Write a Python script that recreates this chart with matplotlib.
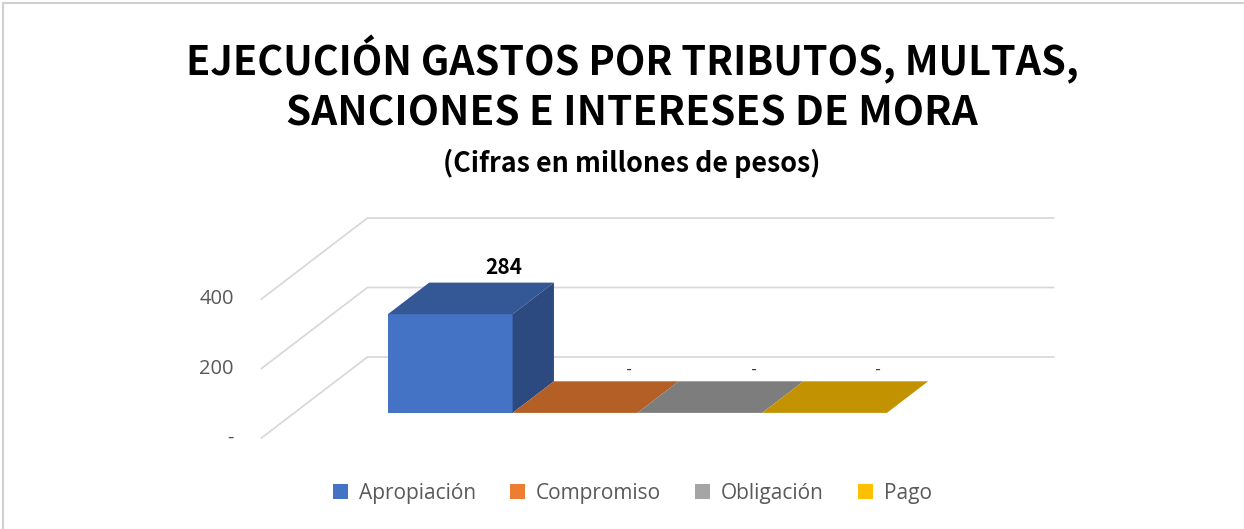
import matplotlib
matplotlib.use('Agg')
import matplotlib.pyplot as plt
from matplotlib.patches import Polygon, Patch
from matplotlib.lines import Line2D
from matplotlib.colors import to_rgb

# === DATA ===
series = ['Apropiación', 'Compromiso', 'Obligación', 'Pago']
values = [284, 0, 0, 0]
colors = ['#4472C4', '#ED7D31', '#A5A5A5', '#FFC000']
yticks = [0, 200, 400]
ytick_labels = ['-', '200', '400']
title_lines = ['EJECUCIÓN GASTOS POR TRIBUTOS, MULTAS,', 'SANCIONES E INTERESES DE MORA']
subtitle = '(Cifras en millones de pesos)'

TITLE_FONT = ['Noto Sans CJK SC', 'Lato']

# === FIGURE ===
W, H = 1244, 529
fig = plt.figure(figsize=(W / 100, H / 100), dpi=100)
ax = fig.add_axes([0, 0, 1, 1])
ax.axis('off')

# pseudo 3D geometry, measured in figure pixels
BAR_PX = 124.75            # width of one bar
UNIT_PX = 69.5 / 200       # pixels per value unit
ORIGIN = (355, 438)        # x=0 / value=0 on the front edge of the floor
DEPTH_PX = (106, 81)       # full floor depth
GAP = 0.75                 # floor margin on each side (bar widths)
D_FRONT, D_BACK = 0.31, 0.70

DX = DEPTH_PX[0] / BAR_PX
DY = DEPTH_PX[1] / UNIT_PX
ax.set_xlim(-ORIGIN[0] / BAR_PX, (W - ORIGIN[0]) / BAR_PX)
ax.set_ylim(-(H - ORIGIN[1]) / UNIT_PX, ORIGIN[1] / UNIT_PX)

# === GRID (side wall + back wall) ===
x_l, x_r = -GAP, len(values) + GAP
for t, lab in zip(yticks, ytick_labels):
    ax.plot([x_l, x_l + DX, x_r + DX], [t, t + DY, t + DY],
            color='#D9D9D9', lw=1.3, zorder=1)
    ax.text(x_l - 0.22, t, lab, ha='right', va='center',
            fontsize=14.5, color='#595959', family='Open Sans')


def shade(c, f):
    return tuple(v * f for v in to_rgb(c))


# === BARS ===
for i, (v, c) in enumerate(zip(values, colors)):
    fx, fy = i + D_FRONT * DX, D_FRONT * DY
    bx, by = i + D_BACK * DX, D_BACK * DY
    ax.bar(fx, v, width=1, bottom=fy, align='edge', color=c, lw=0, zorder=3)
    top = [(fx, fy + v), (fx + 1, fy + v), (bx + 1, by + v), (bx, by + v)]
    ax.add_patch(Polygon(top, closed=True, fc=shade(c, 0.76), ec='none', zorder=3))
    if v > 0:
        side = [(fx + 1, fy), (fx + 1, fy + v), (bx + 1, by + v), (bx + 1, by)]
        ax.add_patch(Polygon(side, closed=True, fc=shade(c, 0.65), ec='none', zorder=3))
        ax.annotate(f'{v:,.0f}', xy=(bx + 0.5, by + v), xytext=(9, 6),
                    textcoords='offset points', ha='center', va='baseline',
                    fontsize=15, fontweight='bold', color='black', family=TITLE_FONT)
    else:
        ax.annotate('-', xy=(bx + 0.5, by + v), xytext=(9, 5),
                    textcoords='offset points', ha='center', va='baseline',
                    fontsize=12, color='#404040', family='Lato')

# === TITLES ===
renderer = fig.canvas.get_renderer()


def fit_text(txt, y_px, width_px, size0):
    t = fig.text(0.508, 1 - y_px / H, txt, ha='center', va='center',
                 fontsize=size0, fontweight='bold', family=TITLE_FONT)
    w = t.get_window_extent(renderer).width
    t.set_fontsize(size0 * width_px / w)
    return t


fit_text(title_lines[0], 60, 890, 30)
fit_text(title_lines[1], 114, 690, 30)
fit_text(subtitle, 163, 377, 16)

# === LEGEND ===
handles = [Patch(facecolor=c, edgecolor='none') for c in colors]
fig.legend(handles, series, loc='center', bbox_to_anchor=(632.5 / W, 1 - 493 / H),
           ncol=4, frameon=False, labelcolor='#595959',
           handlelength=0.7, handleheight=0.7, handletextpad=0.53,
           columnspacing=1.65, prop={'family': 'Open Sans', 'size': 15})

# === FRAME ===
fig.add_artist(Line2D([3 / W, 1], [1 - 3 / H, 1 - 3 / H], transform=fig.transFigure,
                      color='#D0D0D0', lw=1.5))
fig.add_artist(Line2D([3 / W, 3 / W], [0, 1 - 3 / H], transform=fig.transFigure,
                      color='#D0D0D0', lw=1.5))

fig.savefig('out.png', dpi=100)
